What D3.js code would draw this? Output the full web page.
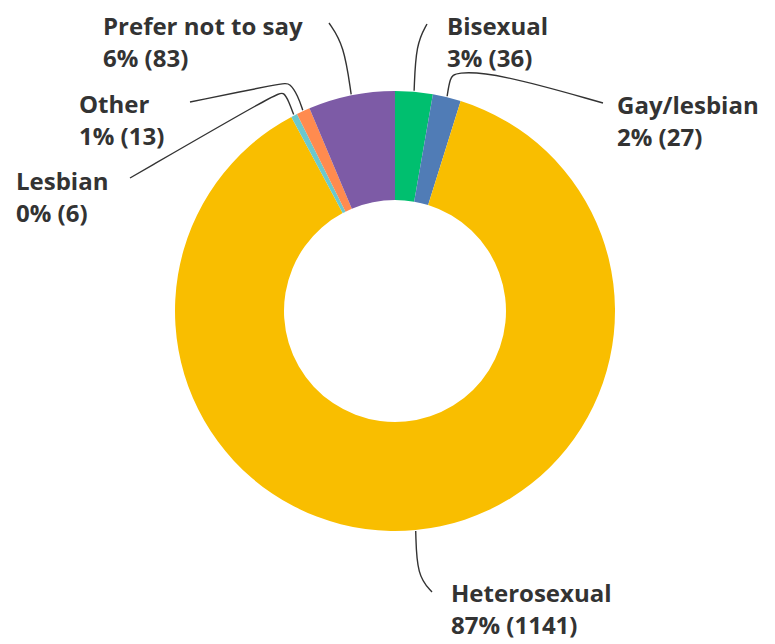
<!DOCTYPE html>
<html>
<head>
<meta charset="utf-8">
<script src="https://cdn.jsdelivr.net/npm/d3@7"></script>
<style>
  body { margin: 0; background: #fff; }
  text { font-family: "Open Sans", Roboto, sans-serif; }
</style>
</head>
<body>
<div id="chart"></div>
<script>
// data, in chart order clockwise from 12 o'clock
const categories = ["Bisexual", "Gay/lesbian", "Heterosexual", "Lesbian", "Other", "Prefer not to say"];
const counts = [36, 27, 1141, 6, 13, 83];
const percentLabels = ["3%", "2%", "87%", "0%", "1%", "6%"];
const colors = ["#00BF6F", "#507CB6", "#F9BE00", "#6BC8CD", "#FF8B4F", "#7D5BA6"];

const width = 775, height = 644;
const cx = 395, cy = 311;
const outerR = 220, innerR = 111;

// label anchor (left x, first baseline) and leader path after the arc point
const labelPos = {
    "Bisexual": { x: 447, y: 35, path: [[416, 44], [427, 24]] },
    "Gay/lesbian": { x: 617, y: 114, path: [[450, 78], [455, 72], [497, 73], [603, 103]] },
    "Heterosexual": { x: 451, y: 602, path: [[417, 576], [432, 592]] },
    "Lesbian": { x: 16, y: 190, path: [[289, 102], [284, 92], [277, 93], [130, 178]] },
    "Other": { x: 79, y: 113, path: [[298, 96], [290, 83], [283, 83], [190, 102]] },
    "Prefer not to say": { x: 103, y: 35, path: [[344, 45], [329, 23]] }
};

const data = categories.map((c, i) => ({ name: c, value: counts[i], pct: percentLabels[i], color: colors[i] }));

const svg = d3.select("#chart")
    .append("svg")
    .attr("width", width)
    .attr("height", height);

const g = svg.append("g")
    .attr("transform", `translate(${cx}, ${cy})`);

const pie = d3.pie()
    .sort(null)
    .value(d => d.value);

const arc = d3.arc()
    .innerRadius(innerR)
    .outerRadius(outerR);

const arcs = pie(data);

g.selectAll("path.slice")
    .data(arcs)
    .enter().append("path")
    .attr("class", "slice")
    .attr("d", arc)
    .attr("fill", d => d.data.color);

// leader lines from the middle of each slice's outer edge to its label
const line = d3.line().curve(d3.curveBasis);

arcs.forEach(d => {
    const lp = labelPos[d.data.name];
    const a = (d.startAngle + d.endAngle) / 2;
    const start = [cx + Math.sin(a) * (outerR + 1), cy - Math.cos(a) * (outerR + 1)];
    svg.append("path")
        .attr("d", line([start].concat(lp.path)))
        .attr("fill", "none")
        .attr("stroke", "#333")
        .attr("stroke-width", 1.4);
});

// labels
const labels = svg.selectAll("g.label")
    .data(arcs)
    .enter().append("g")
    .attr("class", "label");

labels.append("text")
    .attr("x", d => labelPos[d.data.name].x)
    .attr("y", d => labelPos[d.data.name].y)
    .style("font-size", "24px")
    .style("font-weight", "bold")
    .attr("fill", "#333")
    .text(d => d.data.name);

labels.append("text")
    .attr("x", d => labelPos[d.data.name].x)
    .attr("y", d => labelPos[d.data.name].y + 32)
    .style("font-size", "24px")
    .style("font-weight", "bold")
    .attr("fill", "#333")
    .text(d => `${d.data.pct} (${d.data.value})`);
</script>
</body>
</html>
